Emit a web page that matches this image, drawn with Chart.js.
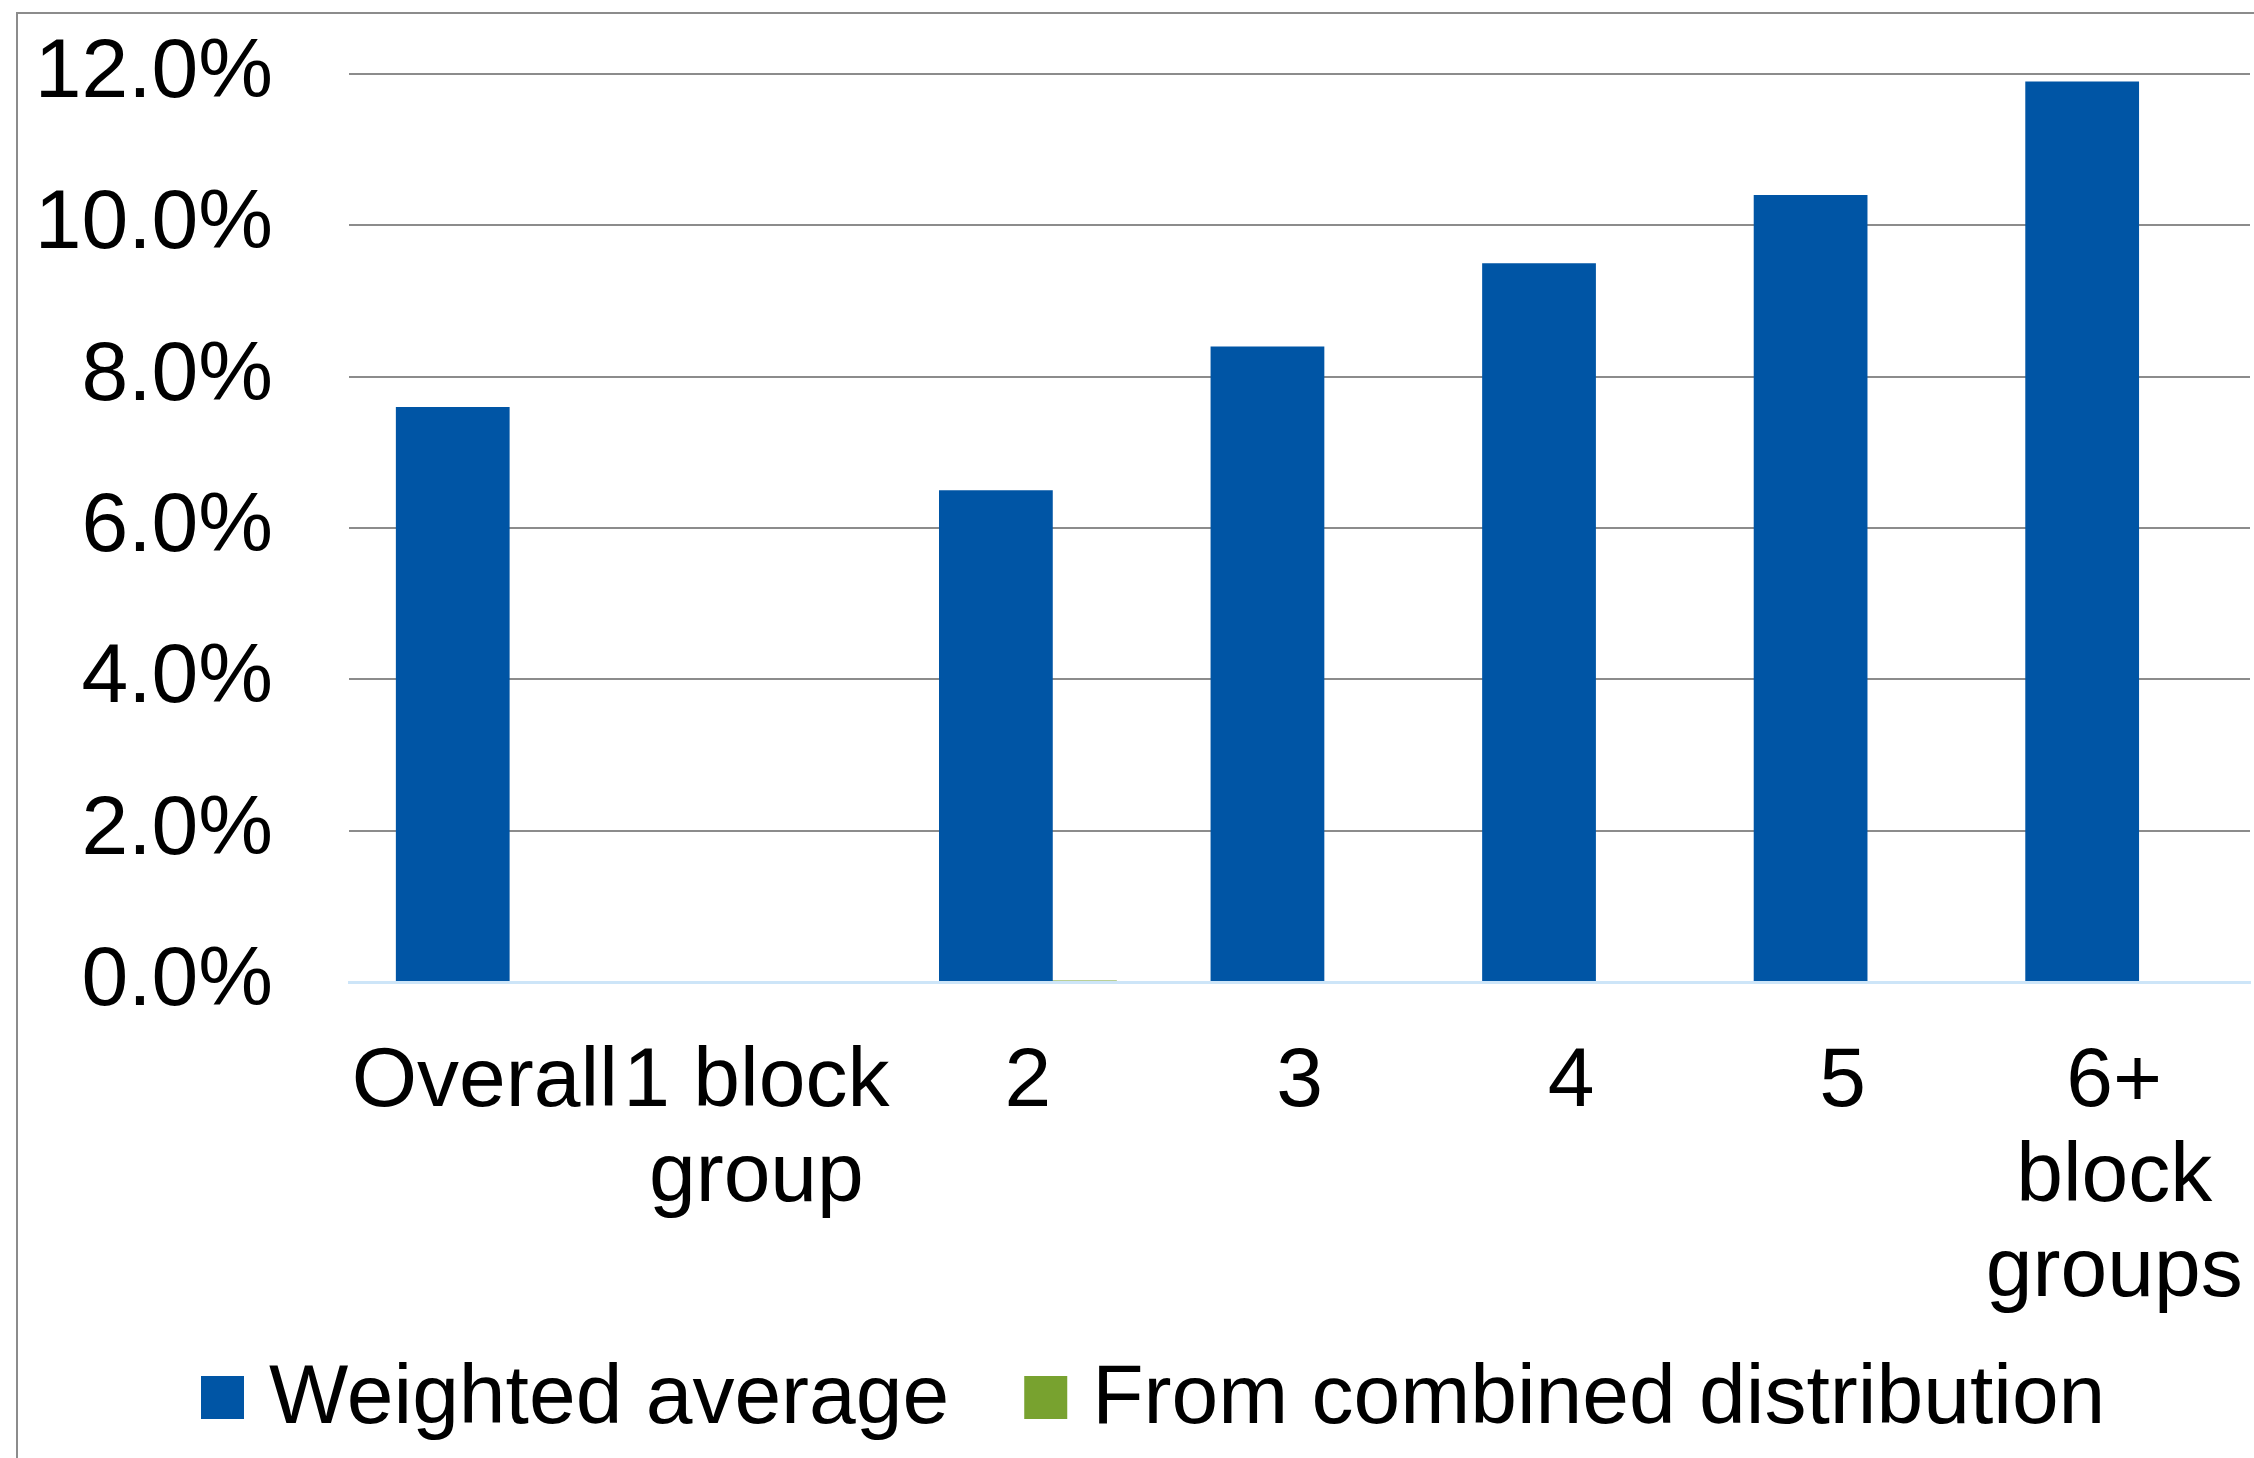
<!DOCTYPE html>
<html>
<head>
<meta charset="utf-8">
<style>
  html, body { margin: 0; padding: 0; background: #ffffff; }
  #wrap { position: relative; width: 2254px; height: 1458px; }
  canvas { display: block; }
</style>
<script src="https://cdn.jsdelivr.net/npm/chart.js@4/dist/chart.umd.min.js"></script>
</head>
<body>
<div id="wrap"><canvas id="chart" width="2254" height="1458"></canvas></div>
<script>
// Categories (multi-line labels are arrays)
const categories = ['Overall', ['1 block', 'group'], '2', '3', '4', '5', ['6+', 'block', 'groups']];

// Series values, in percent
const weightedAverage = [7.6, null, 6.5, 8.4, 9.5, 10.4, 11.9];
const combinedDistribution = [0, 0, 0.02, 0, 0, 0, 0];

// Y axis ticks
const yTicks = [0, 2, 4, 6, 8, 10, 12];

const seriesNames = ['Weighted average', 'From combined distribution'];
const seriesColors = ['#0055a5', '#78a22f'];

const FONT = '"Liberation Sans", Arial, Helvetica, sans-serif';
const FONT_SIZE = 84;

Chart.defaults.font.family = FONT;
Chart.defaults.color = '#000000';

// Outer frame and bottom legend
const framePlugin = {
  id: 'frameAndLegend',
  beforeDraw(chart) {
    const ctx = chart.ctx;
    ctx.save();
    ctx.fillStyle = '#ffffff';
    ctx.fillRect(0, 0, chart.width, chart.height);
    ctx.strokeStyle = '#8c8c8c';
    ctx.lineWidth = 2;
    ctx.beginPath();
    ctx.moveTo(17, chart.height);
    ctx.lineTo(17, 13);
    ctx.lineTo(chart.width, 13);
    ctx.stroke();
    ctx.restore();
  },
  afterDraw(chart) {
    const ctx = chart.ctx;
    ctx.save();
    ctx.font = FONT_SIZE + 'px ' + FONT;
    ctx.textBaseline = 'alphabetic';
    ctx.textAlign = 'left';
    const box = 43, boxTop = 1376, gapText = 25, gapItem = 75, baseline = 1423;
    let x = 201;
    chart.data.datasets.forEach(ds => {
      ctx.fillStyle = ds.backgroundColor;
      ctx.fillRect(x, boxTop, box, box);
      ctx.fillStyle = '#000000';
      ctx.fillText(ds.label, x + box + gapText, baseline);
      x += box + gapText + ctx.measureText(ds.label).width + gapItem;
    });
    ctx.restore();
  }
};

new Chart(document.getElementById('chart'), {
  type: 'bar',
  data: {
    labels: categories,
    datasets: [
      {
        label: seriesNames[0],
        data: weightedAverage,
        backgroundColor: seriesColors[0],
        borderWidth: 0,
        categoryPercentage: 0.472,
        barPercentage: 1.775
      },
      {
        label: seriesNames[1],
        data: combinedDistribution,
        backgroundColor: seriesColors[1],
        borderWidth: 0,
        categoryPercentage: 0.472,
        barPercentage: 1.775
      }
    ]
  },
  options: {
    responsive: false,
    animation: false,
    devicePixelRatio: 1,
    layout: { padding: { top: 74, right: 4, left: 0, bottom: 120 } },
    plugins: {
      legend: { display: false },
      tooltip: { enabled: false },
      title: { display: false }
    },
    scales: {
      x: {
        grid: { display: false, drawTicks: false },
        border: { display: true, color: '#cde5f8', width: 3 },
        ticks: {
          autoSkip: false,
          maxRotation: 0,
          minRotation: 0,
          padding: 53,
          color: '#000000',
          font: { size: FONT_SIZE, lineHeight: 1.131 }
        },
        afterFit(scale) {
          scale.height = 356;
          scale.paddingLeft = 0;
          scale.paddingRight = 0;
        }
      },
      y: {
        min: 0,
        max: 12,
        afterBuildTicks(scale) { scale.ticks = yTicks.map(v => ({ value: v })); },
        grid: {
          drawTicks: false,
          lineWidth: 2,
          color: ctx => (ctx.tick && ctx.tick.value === 0) ? 'rgba(0,0,0,0)' : '#8c8c8c'
        },
        border: { display: false },
        ticks: {
          padding: 76,
          color: '#000000',
          font: { size: FONT_SIZE },
          callback: v => Number(v).toFixed(1) + '%'
        },
        afterFit(scale) {
          scale.width = 349;
          scale.paddingTop = 0;
          scale.paddingBottom = 0;
        }
      }
    }
  },
  plugins: [framePlugin]
});
</script>
</body>
</html>
